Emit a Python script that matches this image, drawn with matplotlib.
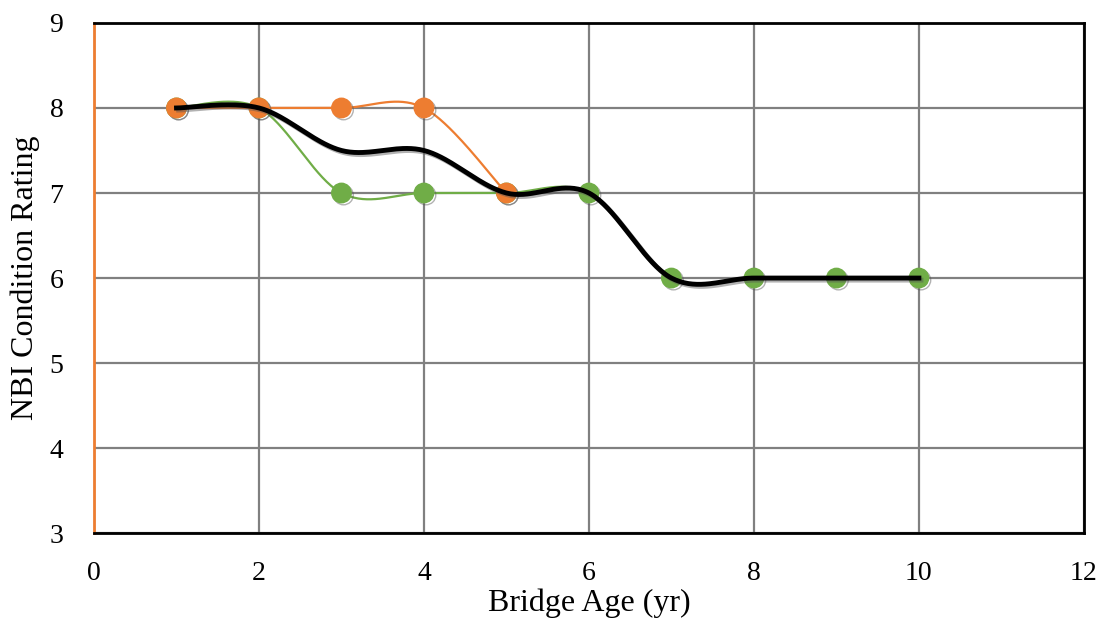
import numpy as np
import matplotlib.pyplot as plt
import matplotlib.patheffects as pe

# Veriler
age_orange = [1, 2, 3, 4, 5]
rating_orange = [8, 8, 8, 8, 7]
age_green = [1, 2, 3, 4, 5, 6, 7, 8, 9, 10]
rating_green = [8, 8, 7, 7, 7, 7, 6, 6, 6, 6]
age_avg = [1, 2, 3, 4, 5, 6, 7, 8, 9, 10]
rating_avg = [8, 8, 7.5, 7.5, 7, 7, 6, 6, 6, 6]

x_ticks = [0, 2, 4, 6, 8, 10, 12]
y_ticks = [3, 4, 5, 6, 7, 8, 9]


def smooth(xs, ys, n=40):
    # Excel tarzi yumusatilmis egri (Bezier, Catmull-Rom kontrol noktalari)
    p = np.column_stack([xs, ys]).astype(float)
    ext = np.vstack([p[0], p, p[-1]])
    out = []
    t = np.linspace(0, 1, n)[:, None]
    for i in range(len(p) - 1):
        p0, p1, p2, p3 = ext[i], ext[i + 1], ext[i + 2], ext[i + 3]
        c1 = p1 + (p2 - p0) / 6
        c2 = p2 - (p3 - p1) / 6
        seg = ((1 - t) ** 3) * p1 + 3 * ((1 - t) ** 2) * t * c1 + 3 * (1 - t) * t ** 2 * c2 + t ** 3 * p2
        out.append(seg if i == 0 else seg[1:])
    seg = np.vstack(out)
    return seg[:, 0], seg[:, 1]


plt.rcParams['font.family'] = ['Liberation Serif', 'DejaVu Serif']

fig = plt.figure(figsize=(11.06, 6.37), dpi=100)
ax = fig.add_axes([0.085, 0.163, 0.895, 0.801])

orange = '#ED7D31'
green = '#70AD47'
shadow = [pe.SimpleLineShadow(offset=(1.5, -1.5), alpha=0.45, shadow_color='#555555'), pe.Normal()]

gx, gy = smooth(age_green, rating_green)
ax.plot(gx, gy, color=green, lw=1.6, zorder=3)
ax.plot(age_green, rating_green, 'o', color=green, ms=14, zorder=4, path_effects=shadow)

ox, oy = smooth(age_orange, rating_orange)
ax.plot(ox, oy, color=orange, lw=1.6, zorder=5)
ax.plot(age_orange, rating_orange, 'o', color=orange, ms=14, zorder=6, path_effects=shadow)

bx, by = smooth(age_avg, rating_avg)
ax.plot(bx, by, color='black', lw=3.5, zorder=7, path_effects=shadow)

ax.set_xlim(0, 12)
ax.set_ylim(3, 9)
ax.set_xticks(x_ticks)
ax.set_yticks(y_ticks)
ax.tick_params(axis='x', length=0, labelsize=20, pad=20)
ax.tick_params(axis='y', length=0, labelsize=20, pad=22)
ax.grid(True, color='#808080', lw=1.6)
ax.set_axisbelow(True)

for s in ['top', 'bottom', 'right']:
    ax.spines[s].set_color('black')
    ax.spines[s].set_linewidth(2)
ax.spines['left'].set_color(orange)
ax.spines['left'].set_linewidth(2)

ax.set_xlabel('Bridge Age (yr)', fontsize=23, va='center')
ax.set_ylabel('NBI Condition Rating', fontsize=23, va='center')
ax.xaxis.set_label_coords(0.5, -0.137)
ax.yaxis.set_label_coords(-0.0697, 0.5)

fig.savefig('out.png', dpi=100)
